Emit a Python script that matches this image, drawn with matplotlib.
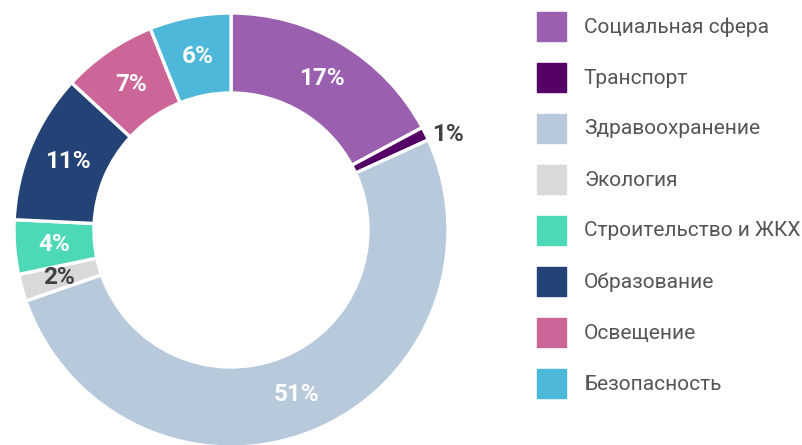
import matplotlib.pyplot as plt
from matplotlib.patches import Rectangle
import numpy as np

# Доли по направлениям, %
categories = ['Социальная сфера', 'Транспорт', 'Здравоохранение', 'Экология',
              'Строительство и ЖКХ', 'Образование', 'Освещение', 'Безопасность']
shares = [17, 1, 51, 2, 4, 11, 7, 6]
colors = ['#9b5faf', '#550066', '#b8c9dc', '#d9d9d9',
          '#4dd9b8', '#234275', '#cc6699', '#4db8d9']
dark_labels = ['Транспорт', 'Экология']

W, H = 802, 445
cx, cy, R = 231, 230, 217

fig = plt.figure(figsize=(W / 100, H / 100), dpi=100)
ax = fig.add_axes([0, 0, 1, 1])
ax.axis('off')

width = (217 - 137) / 217
wedges, _ = ax.pie(shares, colors=colors, startangle=90, counterclock=False,
                   radius=1, wedgeprops=dict(width=width, edgecolor='white', linewidth=2.4))
ax.set_xlim(-cx / R, (W - cx) / R)
ax.set_ylim(-(H - cy) / R, cy / R)

for w, cat, val in zip(wedges, categories, shares):
    ang = np.deg2rad((w.theta1 + w.theta2) / 2)
    if cat == 'Транспорт':
        # маленький сектор — подпись снаружи
        r = 1.06
        x, y = r * np.cos(ang) + 0.05, r * np.sin(ang) - 0.03
        col = '#404040'
    elif cat in dark_labels:
        r = 0.82
        x, y = r * np.cos(ang), r * np.sin(ang)
        col = '#404040'
    else:
        r = 0.815
        x, y = r * np.cos(ang), r * np.sin(ang)
        col = 'white'
    ax.text(x, y, f'{val}%', ha='center', va='center', color=col,
            fontsize=17.5, fontweight='bold', family='Roboto')

# Легенда
for i, (cat, c) in enumerate(zip(categories, colors)):
    top = 12 + i * 51
    fig.patches.append(Rectangle((537 / W, 1 - (top + 29) / H), 29 / W, 29 / H,
                                 transform=fig.transFigure, color=c))
    fig.text(584 / W, 1 - (top + 15) / H, cat, ha='left', va='center',
             fontsize=15, color='#555555', family='Roboto')

fig.savefig('out.png', dpi=100)
